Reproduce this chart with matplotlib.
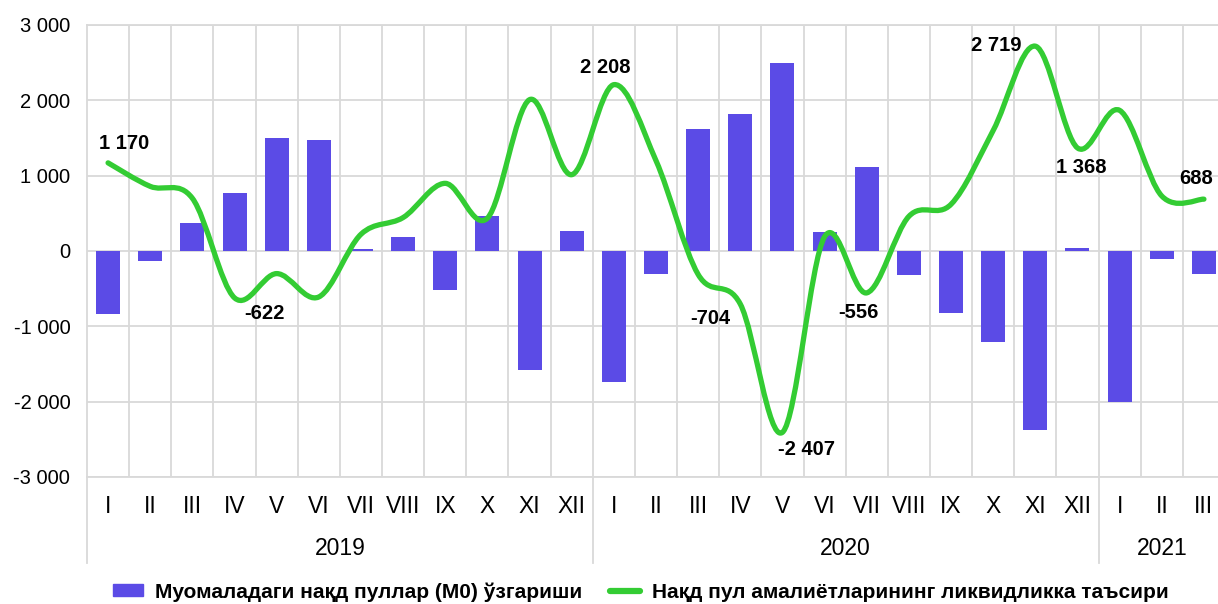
import numpy as np
import matplotlib.pyplot as plt
from matplotlib.path import Path
from matplotlib.patches import PathPatch, Patch
from matplotlib.lines import Line2D
import matplotlib.transforms as mtransforms

plt.rcParams['font.family'] = ['Liberation Sans', 'DejaVu Sans']

months = ['I', 'II', 'III', 'IV', 'V', 'VI', 'VII', 'VIII', 'IX', 'X', 'XI', 'XII',
          'I', 'II', 'III', 'IV', 'V', 'VI', 'VII', 'VIII', 'IX', 'X', 'XI', 'XII',
          'I', 'II', 'III']
years = ['2019', '2020', '2021']
year_len = [12, 12, 3]

# M0 change (bars)
m0 = [-840, -130, 374, 776, 1505, 1470, 20, 192, -520, 458, -1576, 263,
      -1740, -302, 1615, 1814, 2496, 249, 1121, -312, -820, -1213, -2381, 37,
      -2000, -100, -302]
# liquidity effect of cash operations (line)
liq = [1170, 858, 700, -622, -300, -610, 222, 444, 898, 436, 2009, 1013,
       2208, 1200, -311, -704, -2407, 190, -556, 460, 620, 1600, 2719, 1368,
       1867, 730, 688]
labeled = [0, 3, 12, 15, 16, 18, 22, 23, 26]
# label offsets in pixels (dx, dy)
lab_off = [(16, 19), (30, -16), (-9, 17), (-30, -14), (24, -17), (-8, -20),
           (-39, 1), (4, -20), (-8, 21)]

bar_c = '#5B4BE6'
line_c = '#33CC33'
grid_c = '#D9D9D9'

fig = plt.figure(figsize=(12.18, 6.04), dpi=100)
ax = fig.add_axes([87/1218, 1-477/604, 1138/1218, 452/604])

n = len(m0)
x = np.arange(n)
ax.bar(x, m0, width=0.57, color=bar_c, zorder=2)

# smoothed line (Excel-style bezier through the points)
pts = np.column_stack([x, liq]).astype(float)
ext = np.vstack([pts[0], pts, pts[-1]])
verts = [pts[0]]
codes = [Path.MOVETO]
for i in range(n - 1):
    p0, p1, p2, p3 = ext[i], ext[i+1], ext[i+2], ext[i+3]
    c1 = p1 + (p2 - p0) / 6
    c2 = p2 - (p3 - p1) / 6
    verts += [c1, c2, p2]
    codes += [Path.CURVE4] * 3
ax.add_patch(PathPatch(Path(verts, codes), fill=False, edgecolor=line_c,
                       lw=3.8, capstyle='round', joinstyle='round', zorder=3))

for i, (dx, dy) in zip(labeled, lab_off):
    ax.annotate(f'{liq[i]:,}'.replace(',', ' '), (i, liq[i]), xytext=(dx, dy),
                textcoords='offset pixels', ha='center', va='center',
                fontsize=14.5, fontweight='bold', zorder=4)

ax.set_xlim(-0.5, n - 0.5)
ax.set_ylim(-3000, 3000)
ax.set_yticks(np.arange(-3000, 3001, 1000))
ax.set_yticklabels([f'{v:,}'.replace(',', ' ') for v in range(-3000, 3001, 1000)],
                   fontsize=14.5)
ax.set_xticks(x)
ax.set_xticklabels(months, fontsize=16.5)
ax.set_xticks(np.arange(0.5, n - 1, 1), minor=True)
ax.tick_params(axis='both', which='both', length=0)
ax.tick_params(axis='x', pad=13)
ax.tick_params(axis='y', pad=12)
ax.grid(axis='y', which='major', color=grid_c, lw=1.3, zorder=0)
ax.grid(axis='x', which='minor', color=grid_c, lw=1.3, zorder=0)
for s in ax.spines.values():
    s.set_color(grid_c)
    s.set_linewidth(1.3)

# year separators and labels
tr = mtransforms.blended_transform_factory(ax.transData, ax.transAxes)
start = 0
for yr, ln in zip(years, year_len):
    ax.plot([start - 0.5, start - 0.5], [0, -0.19], transform=tr, color=grid_c,
            lw=1.3, clip_on=False)
    ax.text(start + ln / 2 - 0.5, -0.159, yr, transform=tr, ha='center',
            va='center', fontsize=16.5)
    start += ln
ax.plot([n - 0.5, n - 0.5], [0, -0.19], transform=tr, color=grid_c, lw=1.3,
        clip_on=False)

handles = [Patch(color=bar_c), Line2D([0], [0], color=line_c, lw=4.5,
                                      solid_capstyle='round')]
fig.legend(handles, ['Муомаладаги нақд пуллар (M0) ўзгариши',
                     'Нақд пул амалиётларининг ликвидликка таъсири'],
           loc='center', bbox_to_anchor=(641/1218, 12/604), ncol=2, frameon=False,
           prop={'weight': 'bold', 'size': 15}, handlelength=1.45,
           handleheight=0.5, columnspacing=1.3, handletextpad=0.58)

fig.savefig('out.png', dpi=100)
